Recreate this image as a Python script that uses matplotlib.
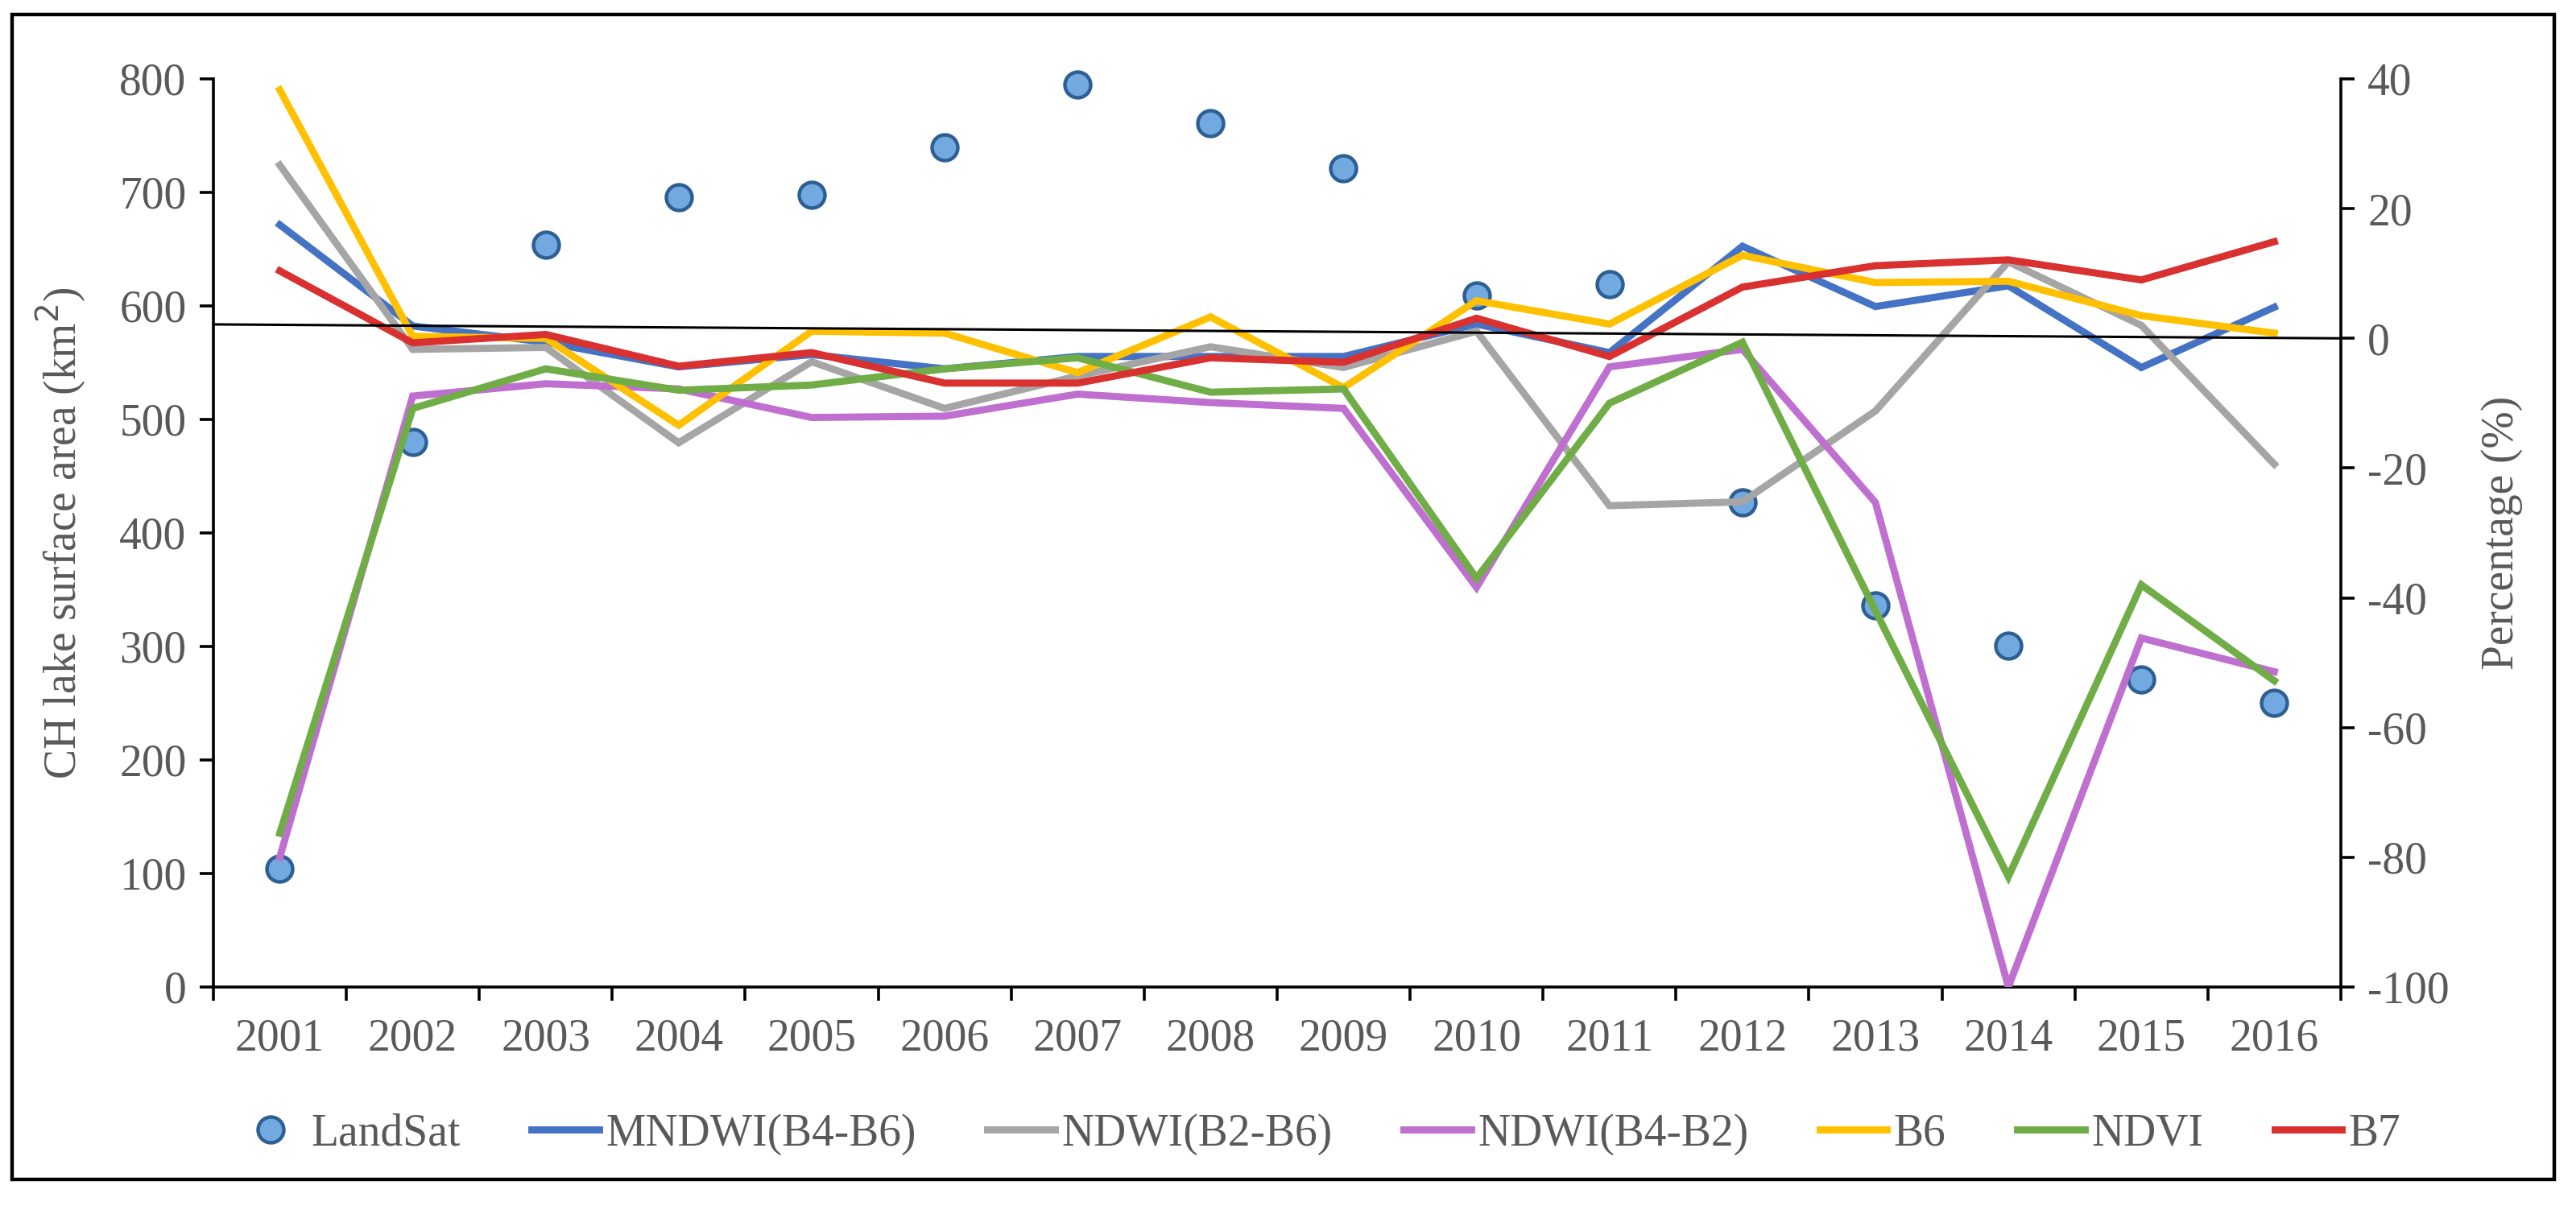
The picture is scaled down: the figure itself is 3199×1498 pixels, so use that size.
import matplotlib
matplotlib.use("Agg")
import matplotlib.pyplot as plt
from matplotlib.patches import Rectangle

years = [str(y) for y in range(2001, 2017)]
landsat = [104, 480, 654, 696, 698, 740, 795, 761, 721, 609, 619, 427, 336, 301, 271, 250]

mndwi = [17.5, 1.9, -0.6, -4.4, -2.5, -4.7, -2.8, -2.8, -2.8, 2.2, -2.2, 14.2, 4.9, 8.1, -4.5, 4.8]
ndwi_b2b6 = [26.7, -1.7, -1.4, -16.1, -3.6, -10.8, -5.8, -1.3, -4.5, 1.1, -25.8, -25.2, -11.2, 11.8, 2.0, -19.4]
ndwi_b4b2 = [-80.0, -8.9, -7.0, -7.8, -12.2, -12.0, -8.6, -9.9, -10.8, -38.4, -4.4, -1.7, -25.3, -100.0, -46.2, -51.4]
b6 = [38.3, 0.3, 0.0, -13.4, 1.1, 0.8, -5.3, 3.3, -7.6, 5.8, 2.2, 12.8, 8.6, 8.8, 3.5, 0.8]
ndvi = [-76.3, -10.8, -4.7, -8.0, -7.2, -4.7, -3.0, -8.3, -7.8, -37.0, -10.0, -0.6, -42.0, -83.0, -38.0, -52.8]
b7 = [10.4, -0.7, 0.6, -4.3, -2.2, -6.9, -6.9, -3.0, -3.7, 3.1, -2.8, 7.9, 11.2, 12.1, 9.0, 14.9]

series_names = ["MNDWI(B4-B6)", "NDWI(B2-B6)", "NDWI(B4-B2)", "B6", "NDVI", "B7"]
series_values = [mndwi, ndwi_b2b6, ndwi_b4b2, b6, ndvi, b7]
series_colors = ["#4472c4", "#a5a5a5", "#bf6fcf", "#ffc000", "#70ad47", "#d93030"]

# reference line (percentage axis), left end and right end
ref_line = [2.15, 0.0]

plt.rcParams['font.family'] = ['Liberation Serif', 'DejaVu Serif']
plt.rcParams['axes.unicode_minus'] = False
grey = "#595959"
fs = 20

fig = plt.figure(figsize=(15.995, 7.49), dpi=200)
ax = fig.add_axes([0.0828, 0.1816, 0.9087 - 0.0828, 0.9346 - 0.1816])
ax2 = ax.twinx()

x = list(range(len(years)))
ax.plot(x, landsat, linestyle='none', marker='o', markersize=11.5,
        markerfacecolor='#72a9e0', markeredgecolor='#2d5f93', markeredgewidth=1.6,
        label='LandSat', zorder=3, clip_on=False)

for name, vals, col in zip(series_names, series_values, series_colors):
    ax2.plot(x, vals, color=col, lw=3.2, label=name, solid_joinstyle='miter')

ax2.plot([-0.5, len(years) - 0.5], ref_line, color='black', lw=1.1)

ax.set_xlim(-0.5, len(years) - 0.5)
ax.set_ylim(0, 800)
ax2.set_ylim(-100, 40)
ax.set_yticks(range(0, 801, 100))
ax2.set_yticks(range(-100, 41, 20))

ax.set_xticks([i - 0.5 for i in range(len(years) + 1)])
ax.set_xticklabels([])
ax.set_xticks(x, minor=True)
ax.set_xticklabels(years, minor=True)
ax.tick_params(axis='x', which='major', direction='out', length=6, width=1.3, color='black')
ax.tick_params(axis='x', which='minor', length=0, pad=14, labelsize=fs, labelcolor=grey)
ax.tick_params(axis='y', direction='out', length=6, width=1.3, labelsize=fs, labelcolor=grey, pad=6)
ax2.tick_params(axis='y', direction='out', length=6, width=1.3, labelsize=fs, labelcolor=grey, pad=6)

for a in (ax, ax2):
    a.spines['top'].set_visible(False)
    for s in ('left', 'right', 'bottom'):
        a.spines[s].set_linewidth(1.3)
ax.spines['right'].set_visible(False)
ax2.spines['left'].set_visible(False)
ax2.spines['bottom'].set_visible(False)

ax.set_ylabel('CH lake surface area (km$^2$)', fontsize=fs, color=grey, labelpad=14)
ax2.set_ylabel('Percentage (%)', fontsize=fs, color=grey, labelpad=14)

h1, l1 = ax.get_legend_handles_labels()
h2, l2 = ax2.get_legend_handles_labels()
leg = fig.legend(h1 + h2, l1 + l2, loc='center', bbox_to_anchor=(0.512, 0.0594),
                 ncol=7, frameon=False, fontsize=fs, handlelength=1.5,
                 handletextpad=0.15, columnspacing=1.6, labelcolor=grey)

fig.patches.append(Rectangle((15 / 3199, 1 - 1465 / 1498), (3172 - 15) / 3199, (1465 - 18) / 1498,
                             transform=fig.transFigure, fill=False, edgecolor='black', lw=1.6))

fig.savefig('out.png', dpi=200)
